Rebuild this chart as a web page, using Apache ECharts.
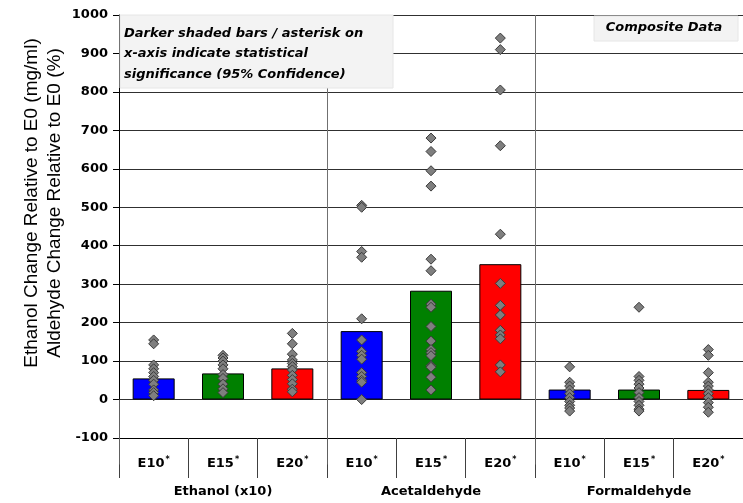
<!DOCTYPE html>
<html>
<head>
<meta charset="utf-8">
<script src="https://cdn.jsdelivr.net/npm/echarts@6/dist/echarts.min.js"></script>
<style>
html,body{margin:0;padding:0;background:#fff;}
#chart{width:743px;height:503px;}
</style>
</head>
<body>
<div id="chart"></div>
<script>
// ---- data ----
const categories = ['E10*', 'E15*', 'E20*', 'E10*', 'E15*', 'E20*', 'E10*', 'E15*', 'E20*'];
const groups = ['Ethanol (x10)', 'Acetaldehyde', 'Formaldehyde'];
const barValues = [55, 68, 81, 178, 283, 352, 26, 26, 25];
const barColors = ['#0000FF', '#008000', '#FF0000', '#0000FF', '#008000', '#FF0000', '#0000FF', '#008000', '#FF0000'];
const ethE10 = [155, 145, 90, 80, 70, 60, 50, 40, 25, 18, 10];
const ethE15 = [115, 108, 100, 90, 80, 65, 55, 40, 28, 18];
const ethE20 = [172, 145, 118, 103, 94, 86, 77, 63, 52, 41, 27, 20];
const aceE10 = [505, 500, 385, 370, 210, 155, 125, 115, 105, 70, 60, 50, 45, 0];
const aceE15 = [680, 645, 595, 555, 365, 335, 248, 240, 190, 152, 130, 122, 114, 88, 84, 58, 25];
const aceE20 = [940, 910, 805, 660, 430, 302, 245, 220, 180, 168, 158, 90, 72];
const forE10 = [85, 45, 35, 25, 15, 5, -5, -15, -22, -30];
const forE15 = [240, 60, 50, 40, 30, 18, 5, -5, -15, -25, -30];
const forE20 = [130, 115, 70, 45, 35, 25, 15, 5, -8, -20, -33];
const yTicks = { min: -100, max: 1000, interval: 100 };
const yTitle = ['Ethanol Change Relative to E0 (mg/ml)', 'Aldehyde Change Relative to E0 (%)'];
const noteText = ['Darker shaded bars / asterisk on', 'x-axis indicate statistical', 'significance (95% Confidence)'];
const tagText = 'Composite Data';

const pointSets = [ethE10, ethE15, ethE20, aceE10, aceE15, aceE20, forE10, forE15, forE20];
const scatterData = [];
pointSets.forEach((arr, i) => arr.forEach(v => scatterData.push([i, v])));

const FONT = 'DejaVu Sans, Verdana, sans-serif';
const TITLEFONT = 'Liberation Sans, Arial, sans-serif';
const chart = echarts.init(document.getElementById('chart'));
chart.setOption({
  animation: false,
  backgroundColor: '#ffffff',
  grid: { left: 119, right: 0, top: 15, bottom: 65, containLabel: false },
  xAxis: [
    {
      type: 'category',
      data: categories,
      position: 'bottom',
      axisLine: { onZero: false, lineStyle: { color: '#000', width: 1 } },
      axisTick: { show: true, interval: 0, length: 40, lineStyle: { color: '#404040', width: 1 } },
      axisLabel: {
        interval: 0, margin: 18, color: '#000',
        fontFamily: FONT, fontWeight: 'bold', fontSize: 13,
        formatter: v => v.replace('*', '{s|*}'),
        rich: { s: { fontSize: 8, fontWeight: 'bold', fontFamily: FONT, padding: [0, 0, 7, 1], color: '#000' } }
      },
      splitLine: { show: false }
    },
    {
      type: 'category',
      data: groups,
      position: 'bottom',
      axisLine: { show: false },
      axisTick: { show: true, interval: 0, length: 65, lineStyle: { color: '#606060', width: 1 } },
      axisLabel: { interval: 0, margin: 47, color: '#000', fontFamily: FONT, fontWeight: 'bold', fontSize: 13 },
      splitLine: { show: true, interval: 0, lineStyle: { color: '#707070', width: 1 } }
    }
  ],
  yAxis: {
    type: 'value',
    min: yTicks.min, max: yTicks.max, interval: yTicks.interval,
    axisLine: { show: true, lineStyle: { color: '#000', width: 1 } },
    axisTick: { show: true, length: 6, lineStyle: { color: '#000' } },
    axisLabel: { margin: 11, color: '#000', fontFamily: FONT, fontWeight: 'bold', fontSize: 13, formatter: v => String(v) },
    splitLine: { show: true, lineStyle: { color: '#303030', width: 1 } }
  },
  series: [
    {
      type: 'bar',
      xAxisIndex: 0,
      barWidth: 42,
      data: barValues.map((v, i) => ({ value: v, itemStyle: { color: barColors[i] } })),
      itemStyle: { borderColor: '#000', borderWidth: 1 },
      z: 2
    },
    {
      type: 'scatter',
      xAxisIndex: 0,
      symbol: 'diamond',
      symbolSize: [10, 10],
      data: scatterData,
      itemStyle: { color: '#7f7f7f', borderColor: '#3a3a3a', borderWidth: 1, opacity: 1 },
      z: 3
    }
  ],
  graphic: [
    {
      type: 'rect', z: 100,
      shape: { x: 120, y: 15, width: 273, height: 73 },
      style: { fill: '#f3f3f3', stroke: '#e6e6e6', lineWidth: 1 }
    },
    {
      type: 'text', z: 101, x: 124, y: 23,
      style: { text: noteText.join('\n'), font: 'italic bold 13px ' + FONT, fill: '#000', lineHeight: 20.5 }
    },
    {
      type: 'rect', z: 100,
      shape: { x: 594, y: 16, width: 144, height: 25 },
      style: { fill: '#f3f3f3', stroke: '#e6e6e6', lineWidth: 1 }
    },
    {
      type: 'text', z: 101, x: 664, y: 28,
      style: { text: tagText, font: 'italic bold 13px ' + FONT, fill: '#000', align: 'center', verticalAlign: 'middle' }
    },
    {
      type: 'text', z: 101, x: 43, y: 203, rotation: Math.PI / 2,
      style: { text: yTitle.join('\n'), font: '19px ' + TITLEFONT, fill: '#000', align: 'center', verticalAlign: 'middle', lineHeight: 23 }
    }
  ]
});
</script>
</body>
</html>
